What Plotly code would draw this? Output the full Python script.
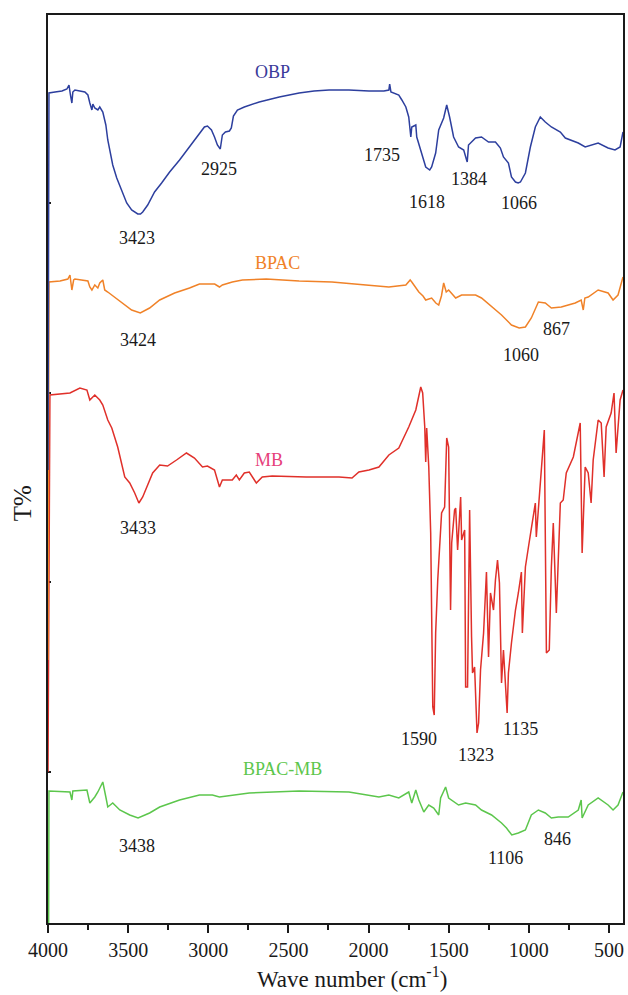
import plotly.graph_objects as go

# Wavenumbers (cm-1) and transmittance readings (arbitrary stacked units, larger = lower on chart)
obp_w = [4000, 3994, 3956, 3913, 3882, 3869, 3860, 3851, 3845, 3832, 3770, 3751, 3739, 3726, 3720, 3708, 3689, 3677, 3658, 3639,
         3627, 3614, 3596, 3571, 3540, 3509, 3478, 3440, 3423, 3409, 3378, 3335, 3291, 3241, 3179, 3117, 3067, 3024, 3005, 2980,
         2961, 2943, 2925, 2912, 2893, 2868, 2856, 2843, 2818, 2775, 2682, 2557, 2433, 2340, 2246, 2122, 1997, 1904, 1873, 1868,
         1860, 1842, 1811, 1792, 1767, 1749, 1736, 1730, 1705, 1699, 1643, 1618, 1606, 1581, 1562, 1531, 1512, 1494, 1469, 1438,
         1406, 1388, 1384, 1376, 1332, 1295, 1251, 1208, 1177, 1158, 1127, 1108, 1083, 1066, 1052, 1021, 990, 959, 928, 897,
         859, 803, 772, 691, 648, 567, 505, 462, 430, 412]
obp_t = [470, 93, 92, 91, 89, 85, 95, 103, 92, 90, 92, 95, 103, 110, 104, 108, 110, 107, 112, 125,
         140, 150, 165, 178, 190, 203, 210, 214, 214, 212, 205, 192, 183, 172, 160, 147, 137, 127, 126, 130,
         137, 145, 149, 135, 132, 131, 128, 116, 110, 107, 102, 97, 93, 91, 90, 90, 91, 91, 90, 84,
         92, 93, 95, 100, 107, 117, 137, 127, 125, 137, 167, 170, 167, 153, 130, 118, 105, 117, 137, 147,
         150, 160, 162, 145, 138, 137, 142, 142, 148, 157, 163, 177, 182, 183, 182, 173, 147, 127, 117, 122,
         127, 132, 138, 143, 147, 143, 148, 150, 147, 132]

bpac_w = [4000, 3994, 3925, 3876, 3863, 3851, 3840, 3832, 3751, 3739, 3726, 3708, 3689, 3677, 3658, 3646, 3627, 3602, 3565, 3521,
          3478, 3424, 3366, 3303, 3210, 3117, 3055, 2960, 2930, 2912, 2850, 2787, 2638, 2433, 2228, 2016, 1873, 1767, 1740, 1730,
          1686, 1660, 1643, 1606, 1580, 1562, 1545, 1531, 1515, 1500, 1456, 1419, 1332, 1295, 1232, 1170, 1108, 1060, 1021, 984,
          940, 897, 859, 797, 710, 673, 660, 650, 629, 567, 505, 474, 443, 412]
bpac_t = [660, 282, 281, 279, 275, 290, 280, 279, 281, 287, 290, 285, 288, 283, 280, 290, 292, 295, 300, 305,
          310, 313, 308, 300, 293, 288, 284, 284, 287, 285, 282, 280, 279, 281, 282, 285, 287, 285, 280, 282,
          292, 296, 300, 298, 303, 305, 296, 283, 292, 290, 298, 295, 295, 298, 307, 315, 325, 328, 327, 318,
          302, 303, 308, 307, 303, 300, 310, 298, 297, 290, 293, 300, 295, 277]

mb_w = [4000, 3988, 3863, 3801, 3757, 3739, 3708, 3677, 3658, 3627, 3602, 3565, 3521, 3490, 3459, 3433, 3409, 3347, 3303, 3254,
        3198, 3136, 3086, 3036, 3005, 2961, 2930, 2912, 2850, 2825, 2806, 2775, 2744, 2725, 2700, 2663, 2601, 2389, 2184, 2103,
        2060, 1997, 1935, 1873, 1811, 1749, 1705, 1674, 1662, 1649, 1643, 1637, 1624, 1612, 1606, 1599, 1590, 1581, 1568, 1556,
        1544, 1525, 1519, 1512, 1500, 1488, 1481, 1463, 1456, 1444, 1425, 1419, 1400, 1394, 1382, 1369, 1357, 1351, 1338, 1323,
        1313, 1301, 1282, 1270, 1264, 1251, 1239, 1220, 1208, 1195, 1183, 1170, 1158, 1135, 1127, 1108, 1083, 1065, 1046, 1040,
        1021, 1002, 984, 959, 953, 928, 903, 890, 872, 859, 847, 828, 803, 785, 766, 722, 679, 667, 648, 629,
        611, 598, 567, 548, 530, 517, 486, 468, 455, 430, 412]
mb_t = [772, 395, 393, 388, 390, 400, 395, 400, 405, 420, 428, 447, 477, 483, 493, 503, 497, 473, 465, 466,
        460, 453, 458, 467, 466, 470, 487, 480, 480, 475, 480, 473, 472, 477, 483, 477, 476, 477, 477, 478,
        472, 470, 467, 455, 448, 427, 410, 387, 393, 427, 462, 428, 467, 533, 613, 707, 715, 633, 580, 540,
        513, 507, 470, 438, 447, 610, 543, 510, 508, 550, 497, 540, 530, 687, 687, 510, 637, 673, 667, 733,
        723, 670, 633, 600, 572, 657, 593, 610, 580, 560, 583, 683, 650, 713, 673, 643, 610, 593, 572, 633,
        567, 547, 527, 503, 537, 480, 430, 653, 650, 567, 523, 613, 503, 500, 473, 457, 423, 553, 467, 473,
        503, 460, 420, 423, 477, 427, 413, 393, 453, 400, 390]

bpacmb_w = [4000, 3994, 3863, 3851, 3845, 3757, 3739, 3708, 3689, 3658, 3639, 3627, 3596, 3552, 3490, 3438, 3366, 3303, 3179, 3055,
            2974, 2930, 2744, 2433, 2122, 1935, 1873, 1811, 1749, 1730, 1705, 1686, 1655, 1624, 1593, 1562, 1550, 1519, 1500, 1438,
            1394, 1332, 1295, 1232, 1170, 1139, 1106, 1065, 1021, 984, 940, 897, 859, 816, 754, 691, 673, 667, 629, 567,
            505, 474, 443, 412]
bpacmb_t = [1167, 791, 792, 800, 791, 790, 803, 797, 792, 782, 797, 807, 803, 810, 815, 818, 813, 807, 800, 795,
            795, 797, 793, 791, 792, 797, 795, 798, 792, 803, 790, 800, 812, 805, 808, 815, 798, 787, 798, 805,
            803, 805, 810, 815, 823, 828, 835, 833, 830, 815, 810, 813, 818, 817, 817, 810, 800, 818, 805, 798,
            805, 810, 805, 792]

series = [
    ("BPAC-MB", bpacmb_w, bpacmb_t, "#5cc64c"),
    ("MB", mb_w, mb_t, "#e0302a"),
    ("BPAC", bpac_w, bpac_t, "#f08228"),
    ("OBP", obp_w, obp_t, "#2d3f9e"),
]

# name labels: (text, wavenumber, level, color)
name_labels = [
    ("OBP", 2601, 72, "#3a3a9a"),
    ("BPAC", 2570, 263, "#f08228"),
    ("MB", 2619, 460, "#e6407a"),
    ("BPAC-MB", 2539, 769, "#5cc64c"),
]
# peak labels: (text, wavenumber, level)
peak_labels = [
    ("3423", 3447, 238), ("2925", 2930, 169), ("1735", 1917, 155), ("1618", 1637, 202),
    ("1384", 1376, 179), ("1066", 1058, 203),
    ("3424", 3440, 340), ("1060", 1046, 355), ("867", 828, 329),
    ("3433", 3440, 528), ("1590", 1687, 739), ("1323", 1332, 755), ("1135", 1052, 729),
    ("3438", 3447, 846), ("1106", 1146, 858), ("846", 822, 839),
]

FONT = "Liberation Serif, Times New Roman, serif"

fig = go.Figure()
for name, w, t, c in series:
    fig.add_trace(go.Scatter(x=w, y=t, mode="lines", name=name,
                             line=dict(color=c, width=1.5), showlegend=False))

for txt, w, lvl, c in name_labels:
    fig.add_annotation(x=w, y=lvl, text=txt, showarrow=False, xanchor="center", yanchor="middle",
                       font=dict(family=FONT, size=18, color=c))
for txt, w, lvl in peak_labels:
    fig.add_annotation(x=w, y=lvl, text=txt, showarrow=False, xanchor="center", yanchor="middle",
                       font=dict(family=FONT, size=18, color="#1a1a1a"))

fig.add_annotation(xref="paper", yref="paper", x=0.529, y=-0.0600, xanchor="center", yanchor="middle",
                   text="Wave number (cm<sup>-1</sup>)",
                   showarrow=False, font=dict(family=FONT, size=23, color="#1a1a1a"))
fig.add_annotation(xref="paper", yref="paper", x=-0.043, y=0.4626, xanchor="center", yanchor="middle",
                   text="T%", textangle=-90,
                   showarrow=False, font=dict(family=FONT, size=25, color="#1a1a1a"))

fig.update_layout(
    width=628, height=995,
    margin=dict(l=48, r=3, t=15, b=72),
    paper_bgcolor="white", plot_bgcolor="white",
    font=dict(family=FONT, color="#1a1a1a"),
    xaxis=dict(range=[4000, 412], tickvals=[4000, 3500, 3000, 2500, 2000, 1500, 1000, 500],
               ticks="outside", ticklen=8, tickwidth=2, tickcolor="#1a1a1a",
               minor=dict(tickvals=[3750, 3250, 2750, 2250, 1750, 1250, 750], ticks="outside",
                          ticklen=5, tickwidth=2, tickcolor="#1a1a1a"),
               showline=True, linewidth=2, linecolor="#1a1a1a", mirror=True,
               showgrid=False, zeroline=False, tickfont=dict(family=FONT, size=20, color="#1a1a1a"),
               layer="below traces"),
    yaxis=dict(range=[923, 15], tickvals=[203, 393, 582, 772], showticklabels=False,
               ticks="inside", ticklen=3, tickwidth=1.5, tickcolor="#1a1a1a",
               showline=True, linewidth=2, linecolor="#1a1a1a", mirror=True,
               showgrid=False, zeroline=False, layer="below traces"),
)

fig.write_html("out.html")
